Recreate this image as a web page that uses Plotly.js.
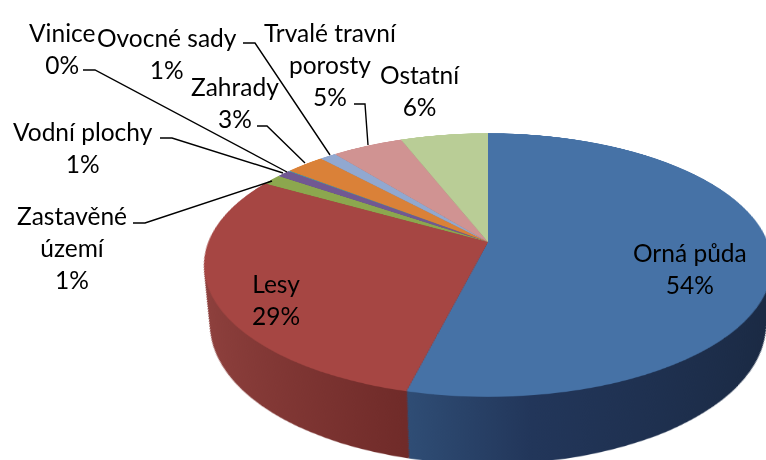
<!DOCTYPE html>
<html><head><meta charset="utf-8">
<script src="https://cdn.plot.ly/plotly-3.0.1.min.js"></script>
<style>
html,body{margin:0;padding:0;background:#fff;width:766px;height:460px;overflow:hidden;}
#stage{position:relative;width:766px;height:460px;overflow:hidden;}
#pie{position:absolute;}
#labels{position:absolute;left:0;top:0;width:766px;height:460px;z-index:2;}
</style>
</head><body><div id="stage"><div id="pie"></div><div id="labels"></div></div>
<script>
// ---- data ----
const categories = ['Orná půda', 'Lesy', 'Zastavěné území', 'Vodní plochy', 'Vinice', 'Zahrady', 'Ovocné sady', 'Trvalé travní porosty', 'Ostatní'];
const shares = [53.9, 29.4, 1.3, 0.9, 0.1, 2.6, 1.1, 4.8, 5.9];
const wrappedNames = ['Orná půda', 'Lesy', 'Zastavěné<br>území', 'Vodní plochy', 'Vinice', 'Zahrady', 'Ovocné sady', 'Trvalé travní<br>porosty', 'Ostatní'];

// ---- styles ----
const topColors  = ['#4672A6', '#A64643', '#8CA74E', '#715892', '#4198AF', '#DA8138', '#91A8D0', '#D09392', '#B9CD96'];
const sideColors = ['#213555', '#7D3330', '#5E7233', '#4C3B63', '#2C6676', '#9A5A26', '#62728F', '#8F6463', '#7E8C66'];
const sideGradients = {
  0: [[0, '#2F4D75'], [0.3, '#22365A'], [1, '#1A2942']],
  1: [[0, '#8F413E'], [0.75, '#702B29'], [1, '#6C2A28']]
};
const W = 766, H = 460;
// 3-D view of the pie: screen position of the centre, radius, tilt, perspective, thickness
const view = {ox: 488, oy: 242, R: 279.7, tilt: 62.8, persp: 1427, depth: 68, layers: 34};
const PW = 600, PH = 740, PO = 300;   // pie canvas size and disc centre inside it

// label block centres (px) and leader lines (px)
const labelPos = [[690, 268.5], [276, 299], [72, 247], [83, 147], [62, 48.5], [235, 102.5], [167, 53], [330, 65], [420, 91]];
const leaders = [
  null, null,
  [[133, 223], [145, 223], [272, 181]],
  [[160, 138], [172, 138], [283, 173]],
  [[83, 70], [95, 70], [287, 172]],
  [[257, 126], [267, 126], [305, 163]],
  [[243, 43], [255, 43], [330, 155]],
  [[354, 104], [365, 104], [368, 145]],
  null
];

const total = shares.reduce((a, b) => a + b, 0);
const pct = shares.map(v => Math.round(v / total * 100) + '%');

function pieTrace(colors) {
  return {
    type: 'pie', values: shares, labels: categories, sort: false,
    direction: 'clockwise', rotation: 0, textinfo: 'none', hoverinfo: 'skip',
    marker: {colors: colors, line: {width: 0}},
    domain: {x: [0, 1], y: [0, 1]}, showlegend: false
  };
}
// side layers (deepest first), then the top face
const traces = [], depths = [];
for (let k = view.layers; k >= 1; k--) { traces.push(pieTrace(sideColors)); depths.push(k * view.depth / view.layers); }
traces.push(pieTrace(topColors)); depths.push(0);

const pieDiv = document.getElementById('pie');
pieDiv.style.left = (view.ox - PO) + 'px';
pieDiv.style.top = (view.oy - PO) + 'px';
pieDiv.style.width = PW + 'px';
pieDiv.style.height = PH + 'px';

const pieLayout = {
  width: PW, height: PH, margin: {l: 0, r: 0, t: 0, b: 0},
  paper_bgcolor: 'rgba(0,0,0,0)', plot_bgcolor: 'rgba(0,0,0,0)', showlegend: false
};
Plotly.newPlot(pieDiv, traces, pieLayout, {staticPlot: true, displayModeBar: false}).then(() => {
  const a = view.tilt * Math.PI / 180;
  const Pc = view.persp * Math.cos(a), Ps = view.persp * Math.sin(a);
  const svg = pieDiv.querySelector('.main-svg');
  const NS = 'http://www.w3.org/2000/svg';
  let defs = svg.querySelector('defs');
  if (!defs) { defs = document.createElementNS(NS, 'defs'); svg.insertBefore(defs, svg.firstChild); }
  Object.keys(sideGradients).forEach(idx => {
    const lg = document.createElementNS(NS, 'linearGradient');
    lg.setAttribute('id', 'side' + idx);
    lg.setAttribute('x1', '0'); lg.setAttribute('x2', '1'); lg.setAttribute('y1', '0'); lg.setAttribute('y2', '0');
    sideGradients[idx].forEach(s => {
      const st = document.createElementNS(NS, 'stop');
      st.setAttribute('offset', s[0]); st.setAttribute('stop-color', s[1]);
      lg.appendChild(st);
    });
    defs.appendChild(lg);
  });
  const fs = pieDiv._fullLayout._size;
  const groups = pieDiv.querySelectorAll('.pielayer .trace');
  groups.forEach((g, i) => {
    const cd0 = (pieDiv.calcdata[i] || [])[0] || {};
    const cx = cd0.cx != null ? cd0.cx : fs.l + fs.w / 2;
    const cy = cd0.cy != null ? cd0.cy : fs.t + fs.h / 2;
    const r = cd0.r || Math.min(fs.w, fs.h) / 2;
    const h = depths[i];
    const t = Pc / (Pc + h);              // lower disc seen through the eye onto the top plane
    const dy = (1 - t) * Ps;
    g.setAttribute('transform', 'translate(' + PO + ',' + (PO + dy) + ') scale(' + (t * view.R / r) + ') translate(' + (-cx) + ',' + (-cy) + ')');
    if (h > 0) {
      g.querySelectorAll('g.slice').forEach((s, j) => {
        if (sideGradients[j]) s.querySelectorAll('path.surface').forEach(p => { p.style.fill = 'url(#side' + j + ')'; });
      });
    }
  });
  pieDiv.style.transformOrigin = PO + 'px ' + PO + 'px';
  pieDiv.style.transform = 'perspective(' + view.persp + 'px) rotateX(' + view.tilt + 'deg)';
});

// ---- labels and leader lines ----
const px = (x) => x / W, py = (y) => 1 - y / H;
const annotations = categories.map((c, i) => ({
  text: wrappedNames[i] + '<br>' + pct[i],
  x: px(labelPos[i][0]), y: py(labelPos[i][1]), xref: 'paper', yref: 'paper',
  xanchor: 'center', yanchor: 'middle', showarrow: false,
  font: {family: 'Lato, sans-serif', size: 24.5, color: '#000'}
}));
const shapes = leaders.filter(l => l).map(l => ({
  type: 'path', xref: 'paper', yref: 'paper',
  path: 'M' + l.map(p => px(p[0]) + ',' + py(p[1])).join(' L'),
  line: {color: '#000', width: 1.4}
}));
Plotly.newPlot('labels', [], {
  width: W, height: H, margin: {l: 0, r: 0, t: 0, b: 0},
  paper_bgcolor: 'rgba(0,0,0,0)', plot_bgcolor: 'rgba(0,0,0,0)', showlegend: false,
  xaxis: {visible: false}, yaxis: {visible: false},
  annotations: annotations, shapes: shapes
}, {staticPlot: true, displayModeBar: false});
</script>
</body></html>
